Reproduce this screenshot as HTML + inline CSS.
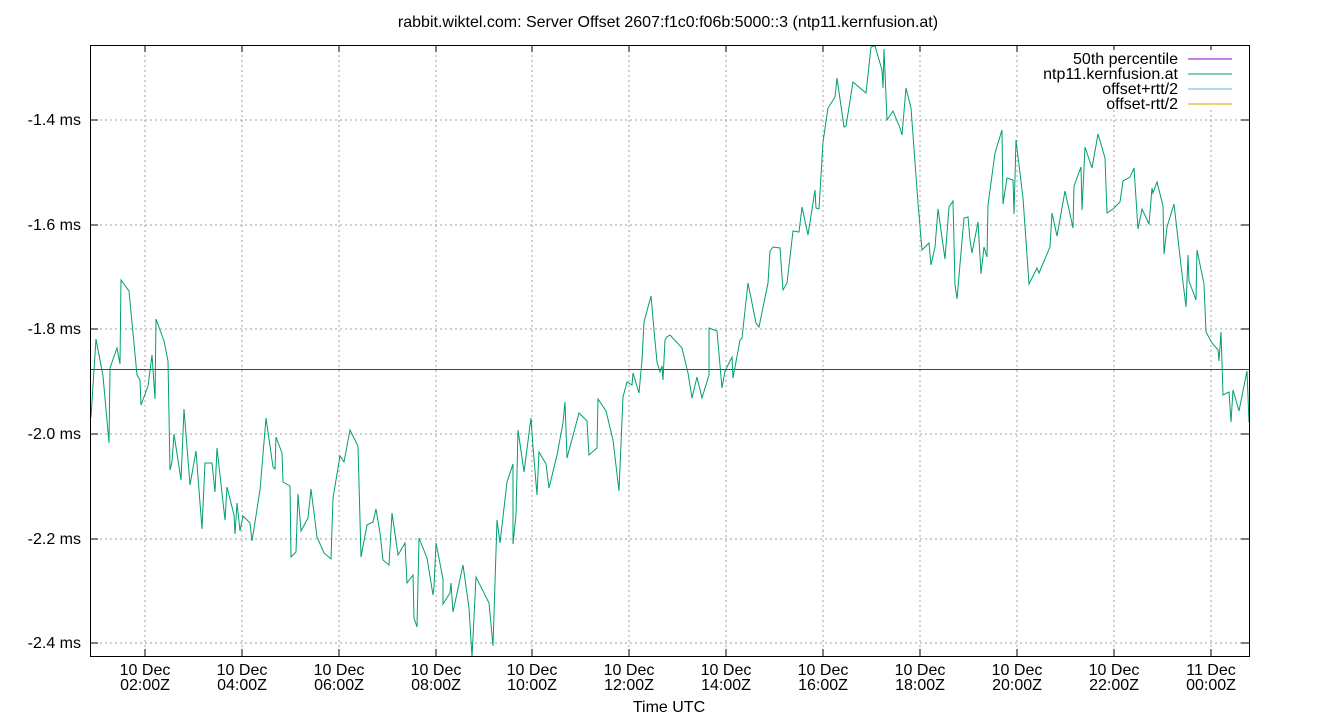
<!DOCTYPE html>
<html><head><meta charset="utf-8"><style>
html,body{margin:0;padding:0;background:#fff;}
svg{display:block;font-family:"Liberation Sans",sans-serif;}
</style></head><body>
<svg width="1340" height="720" viewBox="0 0 1340 720" xmlns="http://www.w3.org/2000/svg">
<rect width="1340" height="720" fill="#fff"/>
<text x="668" y="27" font-size="16" text-anchor="middle">rabbit.wiktel.com: Server Offset 2607:f1c0:f06b:5000::3 (ntp11.kernfusion.at)</text>
<g stroke="#a0a0a0" stroke-width="1" stroke-dasharray="2,3">
<line x1="90" y1="120" x2="1249" y2="120"/>
<line x1="90" y1="225" x2="1249" y2="225"/>
<line x1="90" y1="329" x2="1249" y2="329"/>
<line x1="90" y1="434" x2="1249" y2="434"/>
<line x1="90" y1="539" x2="1249" y2="539"/>
<line x1="90" y1="643" x2="1249" y2="643"/>
<line x1="145" y1="45" x2="145" y2="656"/>
<line x1="242" y1="45" x2="242" y2="656"/>
<line x1="339" y1="45" x2="339" y2="656"/>
<line x1="436" y1="45" x2="436" y2="656"/>
<line x1="532" y1="45" x2="532" y2="656"/>
<line x1="629" y1="45" x2="629" y2="656"/>
<line x1="726" y1="45" x2="726" y2="656"/>
<line x1="823" y1="45" x2="823" y2="656"/>
<line x1="920" y1="45" x2="920" y2="656"/>
<line x1="1017" y1="45" x2="1017" y2="656"/>
<line x1="1114" y1="45" x2="1114" y2="656"/>
<line x1="1211" y1="45" x2="1211" y2="656"/>
</g>
<g stroke="#000" stroke-width="1">
<path d="M90,120h8M90,225h8M90,329h8M90,434h8M90,539h8M90,643h8M1249,120h-8M1249,225h-8M1249,329h-8M1249,434h-8M1249,539h-8M1249,643h-8"/>
<path d="M145,656v-7M242,656v-7M339,656v-7M436,656v-7M532,656v-7M629,656v-7M726,656v-7M823,656v-7M920,656v-7M1017,656v-7M1114,656v-7M1211,656v-7M145,45v7M242,45v7M339,45v7M436,45v7M532,45v7M629,45v7M726,45v7M823,45v7M920,45v7M1017,45v7M1114,45v7M1211,45v7"/>
</g>
<g font-size="16" text-anchor="end">
<text x="81" y="125">-1.4 ms</text>
<text x="81" y="230">-1.6 ms</text>
<text x="81" y="334">-1.8 ms</text>
<text x="81" y="439">-2.0 ms</text>
<text x="81" y="544">-2.2 ms</text>
<text x="81" y="648">-2.4 ms</text>
</g>
<g font-size="16" text-anchor="middle">
<text x="145" y="675">10 Dec</text><text x="145" y="690">02:00Z</text>
<text x="242" y="675">10 Dec</text><text x="242" y="690">04:00Z</text>
<text x="339" y="675">10 Dec</text><text x="339" y="690">06:00Z</text>
<text x="436" y="675">10 Dec</text><text x="436" y="690">08:00Z</text>
<text x="532" y="675">10 Dec</text><text x="532" y="690">10:00Z</text>
<text x="629" y="675">10 Dec</text><text x="629" y="690">12:00Z</text>
<text x="726" y="675">10 Dec</text><text x="726" y="690">14:00Z</text>
<text x="823" y="675">10 Dec</text><text x="823" y="690">16:00Z</text>
<text x="920" y="675">10 Dec</text><text x="920" y="690">18:00Z</text>
<text x="1017" y="675">10 Dec</text><text x="1017" y="690">20:00Z</text>
<text x="1114" y="675">10 Dec</text><text x="1114" y="690">22:00Z</text>
<text x="1211" y="675">11 Dec</text><text x="1211" y="690">00:00Z</text>
<text x="669" y="712">Time UTC</text>
</g>
<line x1="90" y1="369.5" x2="1249" y2="369.5" stroke="#9400d3" stroke-width="1"/>
<polyline fill="none" stroke="#009e73" stroke-width="1" stroke-linejoin="miter" points="
90,418 91,417 96,339 103,376 109,443 110,368 117,348 120,364 121,280 129,291 137,375 140,380 141,405 148,386 152,355 155,399 156,319 164,341 168,361 170,470 172,462 174,434 181,480 184,409 190,485 196,451 202,529 205,463 212,463 215,492 217,448 225,520 227,487 234,515 235,534 237,503 240,531 243,516 250,523 252,541 260,490 266,418 273,467 275,469 276,437 282,453 283,482 290,486 291,557 296,552 298,494 301,531 308,518 311,489 317,537 324,553 331,559 333,498 340,456 344,462 350,430 358,446 361,557 367,525 373,522 376,509 380,533 383,560 389,565 392,513 398,555 405,543 407,583 413,575 414,618 417,627 419,538 427,558 433,595 434,587 436,543 443,579 443,604 450,593 451,583 453,612 463,565 469,608 472,657 476,577 489,603 493,646 497,520 500,543 507,482 513,464 513,544 516,515 518,430 524,472 531,418 533,447 537,495 539,452 546,464 549,488 557,455 563,423 565,402 567,458 579,413 587,421 589,455 597,448 598,399 606,411 613,440 619,491 623,397 627,382 632,385 633,373 639,393 642,360 644,322 651,296 654,330 657,362 660,372 662,366 663,380 665,340 667,337 670,335 682,348 688,373 692,398 697,377 702,398 709,375 709,328 717,331 722,388 725,371 732,357 733,378 740,340 742,338 748,283 756,323 759,327 768,283 770,251 773,247 780,248 783,290 787,283 793,231 799,232 802,207 808,235 815,190 816,208 819,209 823,142 828,108 835,97 837,78 844,127 846,126 853,82 860,88 866,93 871,47 875,46 882,70 883,88 884,49 887,120 893,111 900,128 902,135 906,88 911,108 918,203 922,250 929,243 931,265 935,247 938,209 945,259 949,207 953,201 955,285 957,299 964,218 968,217 970,240 972,253 978,222 981,274 984,247 987,257 988,205 995,153 1002,130 1003,204 1007,178 1013,180 1014,214 1016,140 1023,198 1029,284 1037,268 1039,273 1050,247 1052,213 1057,236 1065,191 1073,228 1074,186 1081,167 1082,210 1085,147 1092,168 1098,134 1105,158 1107,213 1113,209 1120,202 1123,181 1130,177 1134,168 1138,229 1142,209 1149,224 1152,188 1153,193 1157,182 1163,206 1164,254 1167,227 1174,204 1182,274 1186,307 1188,255 1189,281 1196,300 1197,250 1204,284 1206,332 1212,343 1218,350 1219,361 1221,332 1223,395 1229,392 1231,422 1233,390 1239,411 1247,371 1249,422"/>
<rect x="1075" y="50" width="165" height="60" fill="#fff"/>
<g font-size="16" text-anchor="end">
<text x="1178" y="64">50th percentile</text>
<text x="1178" y="79">ntp11.kernfusion.at</text>
<text x="1178" y="94">offset+rtt/2</text>
<text x="1178" y="109">offset-rtt/2</text>
</g>
<line x1="1188" y1="59" x2="1232" y2="59" stroke="#9400d3"/>
<line x1="1188" y1="74" x2="1232" y2="74" stroke="#009e73"/>
<line x1="1188" y1="89" x2="1232" y2="89" stroke="#56b4e9"/>
<line x1="1188" y1="104" x2="1232" y2="104" stroke="#e69f00"/>
<rect x="90.5" y="45.5" width="1159" height="611" fill="none" stroke="#000" stroke-width="1"/>
</svg>
</body></html>
